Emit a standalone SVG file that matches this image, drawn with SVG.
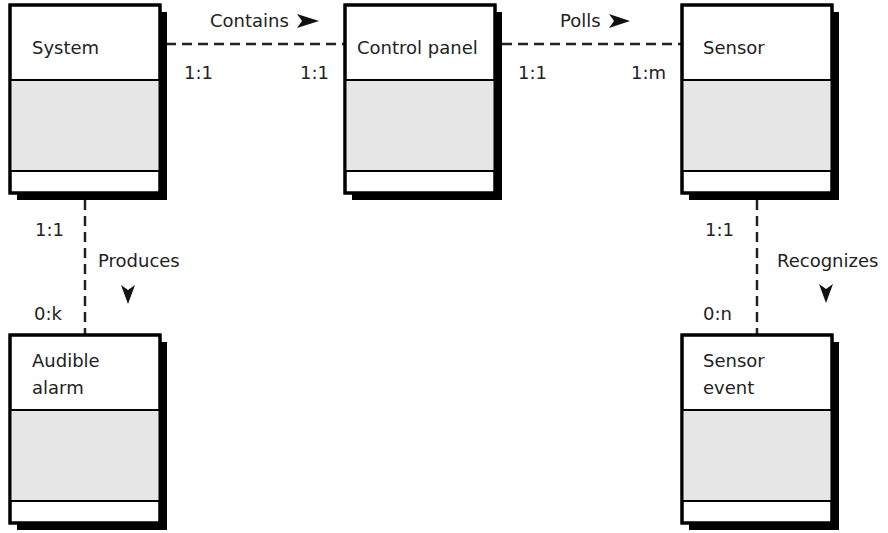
<svg xmlns="http://www.w3.org/2000/svg" width="888" height="533" viewBox="0 0 888 533">
<defs>
<style>
.shadow{fill:#000}
.body{fill:#fff;stroke:#000;stroke-width:3}
.mid{fill:#e6e6e6;stroke:#000;stroke-width:2}
.t{font-family:"DejaVu Sans","Liberation Sans",sans-serif;font-size:18px;fill:#222}
.conn{stroke:#222;stroke-width:2.5;stroke-dasharray:10 6;fill:none}
.ah{fill:#111}
</style>
<g id="boxshape">
<rect class="shadow" x="7" y="7" width="150" height="188"/>
<rect class="body" x="0" y="0" width="150" height="188"/>
<rect class="mid" x="0" y="75" width="150" height="91"/>
<rect x="0" y="0" width="150" height="188" fill="none" stroke="#000" stroke-width="3"/>
</g>
</defs>
<rect width="888" height="533" fill="#fff"/>
<g id="connectors">
<line class="conn" x1="166" y1="44" x2="345" y2="44"/>
<line class="conn" x1="502" y1="44" x2="682" y2="44"/>
<line class="conn" x1="85" y1="200" x2="85" y2="335"/>
<line class="conn" x1="757" y1="200" x2="757" y2="335"/>
<text class="t" x="210" y="27">Contains</text>
<path class="ah" d="M297,14 L319,21 L297,28 L302,21 Z"/>
<text class="t" x="560" y="27">Polls</text>
<path class="ah" d="M609,14 L630,21 L609,28 L614,21 Z"/>
<text class="t" x="184" y="79">1:1</text>
<text class="t" x="300" y="79">1:1</text>
<text class="t" x="518" y="79">1:1</text>
<text class="t" x="631" y="79">1:m</text>
<text class="t" x="35" y="236">1:1</text>
<text class="t" x="98" y="267">Produces</text>
<path class="ah" d="M121,285 L128,304 L135,285 L128,290 Z"/>
<text class="t" x="34" y="320">0:k</text>
<text class="t" x="705" y="236">1:1</text>
<text class="t" x="777" y="267">Recognizes</text>
<path class="ah" d="M819,284 L826,303 L833,284 L826,289 Z"/>
<text class="t" x="703" y="320">0:n</text>
</g>
<g id="system">
<use href="#boxshape" x="10" y="5"/>
<text class="t" x="32" y="54">System</text>
</g>
<g id="control-panel">
<use href="#boxshape" x="345" y="5"/>
<text class="t" x="357" y="54">Control panel</text>
</g>
<g id="sensor">
<use href="#boxshape" x="682" y="5"/>
<text class="t" x="703" y="54">Sensor</text>
</g>
<g id="audible-alarm">
<use href="#boxshape" x="10" y="335"/>
<text class="t" x="32" y="367">Audible</text>
<text class="t" x="32" y="394">alarm</text>
</g>
<g id="sensor-event">
<use href="#boxshape" x="682" y="335"/>
<text class="t" x="703" y="367">Sensor</text>
<text class="t" x="703" y="394">event</text>
</g>
</svg>
